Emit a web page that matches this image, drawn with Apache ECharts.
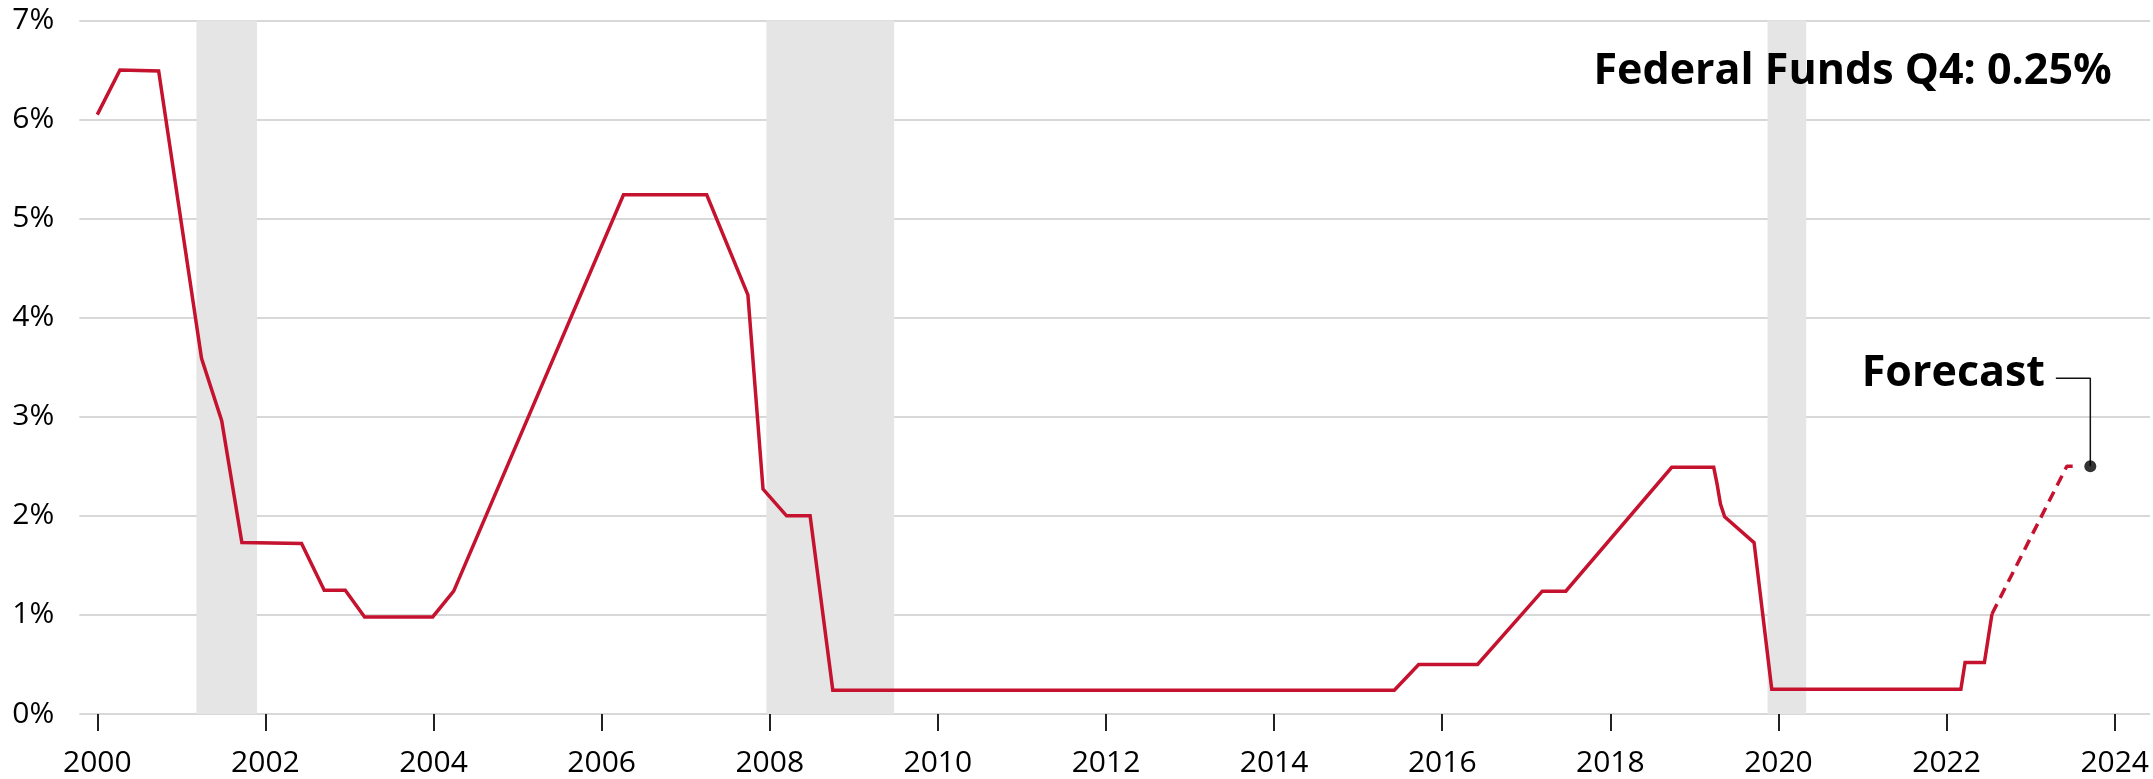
<!DOCTYPE html>
<html>
<head>
<meta charset="utf-8">
<script src="https://cdn.jsdelivr.net/npm/echarts@6/dist/echarts.min.js"></script>
<style>
  html, body { margin: 0; padding: 0; background: #fff; }
  #chart { width: 2153px; height: 779px; }
</style>
</head>
<body>
<div id="chart"></div>
<script>
// ---- Data ----
const actualYears = [2000.0, 2000.27, 2000.73, 2001.24, 2001.48, 2001.72, 2002.43, 2002.70, 2002.95, 2003.18, 2003.99, 2004.24,
  2006.26, 2007.25, 2007.74, 2007.92, 2008.20, 2008.48, 2008.75, 2015.43, 2015.72, 2016.42, 2017.19, 2017.47,
  2018.73, 2019.23, 2019.27, 2019.31, 2019.36, 2019.71, 2019.92, 2022.17, 2022.22, 2022.45, 2022.54];
const actualRates = [6.05, 6.50, 6.49, 3.59, 2.96, 1.73, 1.72, 1.25, 1.25, 0.98, 0.98, 1.24,
  5.24, 5.24, 4.23, 2.27, 2.00, 2.00, 0.24, 0.24, 0.50, 0.50, 1.24, 1.24,
  2.49, 2.49, 2.32, 2.12, 1.99, 1.73, 0.25, 0.25, 0.52, 0.52, 1.01];
const forecastYears = [2022.54, 2023.43, 2023.50];
const forecastRates = [1.01, 2.50, 2.50];
const forecastPoint = [2023.71, 2.50];
const recessions = [[2001.18, 2001.90], [2007.96, 2009.48], [2019.87, 2020.33]];
const xTickYears = [2000, 2002, 2004, 2006, 2008, 2010, 2012, 2014, 2016, 2018, 2020, 2022, 2024];
const titleText = 'Federal Funds Q4: 0.25%';
const forecastLabel = 'Forecast';

// ---- Chart ----
const FONT = "'Open Sans', 'Noto Sans', sans-serif";
const RED = '#c5122f';
const zip = (xs, ys) => xs.map((x, i) => [x, ys[i]]);
const leader = [
  [forecastPoint[0] - 0.41, forecastPoint[1] + 0.89],
  [forecastPoint[0], forecastPoint[1] + 0.89],
  forecastPoint
];

const chart = echarts.init(document.getElementById('chart'), null, { renderer: 'canvas' });
chart.setOption({
  animation: false,
  backgroundColor: '#ffffff',
  grid: { left: 79.3, right: 3, top: 20.5, bottom: 65, containLabel: false },
  xAxis: {
    type: 'value', min: 1999.786, max: 2024.42,
    axisLine: { show: false },
    splitLine: { show: false },
    axisTick: { show: true, customValues: xTickYears, length: 17, lineStyle: { color: '#222', width: 2 } },
    axisLabel: { customValues: xTickYears, formatter: v => String(Math.round(v)), fontSize: 30, fontFamily: FONT, color: '#000', margin: 34 }
  },
  yAxis: {
    type: 'value', min: 0, max: 7, interval: 1,
    axisLine: { show: false }, axisTick: { show: false },
    splitLine: { show: true, lineStyle: { color: '#cbcbcb', width: 1.5 } },
    axisLabel: { formatter: '{value}%', fontSize: 30, fontFamily: FONT, color: '#000', margin: 25 }
  },
  series: [
    {
      type: 'line', data: [], silent: true,
      markArea: {
        silent: true,
        itemStyle: { color: '#e5e5e5' },
        data: recessions.map(r => [{ xAxis: r[0] }, { xAxis: r[1] }])
      },
      z: 1
    },
    {
      type: 'line', data: zip(actualYears, actualRates), showSymbol: false,
      lineStyle: { color: RED, width: 3.5, join: 'miter' }, z: 5, silent: true
    },
    {
      type: 'line', data: zip(forecastYears, forecastRates), showSymbol: false,
      lineStyle: { color: RED, width: 3.5, type: [11, 7] }, z: 5, silent: true
    },
    {
      type: 'line', data: leader, showSymbol: false,
      lineStyle: { color: '#111', width: 1.5 }, z: 6, silent: true
    },
    {
      type: 'scatter', data: [forecastPoint], symbolSize: 12,
      itemStyle: { color: '#000' }, z: 7, silent: true
    }
  ],
  graphic: [
    {
      type: 'text', x: 2111.7, y: 72, z: 10,
      style: { text: titleText, font: "bold 43px " + FONT, fill: '#000', align: 'right', verticalAlign: 'middle' }
    },
    {
      type: 'text', x: 2045, y: 373.5, z: 10,
      style: { text: forecastLabel, font: "bold 43px " + FONT, fill: '#000', align: 'right', verticalAlign: 'middle' }
    }
  ]
});
</script>
</body>
</html>
